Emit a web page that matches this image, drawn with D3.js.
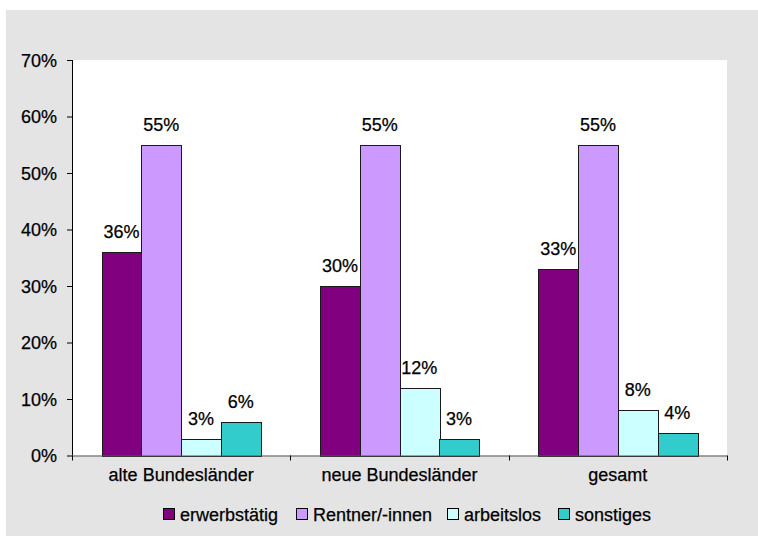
<!DOCTYPE html>
<html>
<head>
<meta charset="utf-8">
<script src="https://cdn.jsdelivr.net/npm/d3@7"></script>
<style>
	body{margin:0;background:#ffffff;}
	text{font-family:"Liberation Sans", Arial, Helvetica, sans-serif;fill:#000;stroke:#000;stroke-width:0.25px;}
</style>
</head>
<body>
<div id="chart"></div>
<script>

var categories = ["alte Bundesländer", "neue Bundesländer", "gesamt"];
var seriesNames = ["erwerbstätig", "Rentner/-innen", "arbeitslos", "sonstiges"];
var seriesColors = ["#800080", "#cc99ff", "#ccffff", "#33cccc"];
var erwerbstaetig = [36, 30, 33];
var rentner = [55, 55, 55];
var arbeitslos = [3, 12, 8];
var sonstiges = [6, 3, 4];
var yTicks = [0, 10, 20, 30, 40, 50, 60, 70];

var values = [erwerbstaetig, rentner, arbeitslos, sonstiges];

var WIDTH = 758;
var HEIGHT = 536;
var FONT = 18;
var plot = {left: 72, right: 727, top: 60, bottom: 455.5};

var svg = d3.select("#chart")
	.append("svg")
	.attr("width", WIDTH)
	.attr("height", HEIGHT);

//GREY BACKGROUND, WHITE PLOT AREA
svg.append("rect")
	.attr("x", 6).attr("y", 10)
	.attr("width", WIDTH - 6).attr("height", HEIGHT - 10)
	.attr("fill", "#e4e4e4");
svg.append("rect")
	.attr("x", plot.left).attr("y", plot.top)
	.attr("width", plot.right - plot.left).attr("height", plot.bottom - plot.top)
	.attr("fill", "#ffffff");

var x0 = d3.scaleBand().domain(categories).range([plot.left, plot.right]).padding(0);
var x1 = d3.scaleBand().domain(seriesNames).range([0, x0.bandwidth()]).paddingInner(0).paddingOuter(0.75);
var y = d3.scaleLinear().domain([0, 70]).range([plot.bottom, plot.top]);

//BARS
var rows = [];
categories.forEach(function(c, ci){
	seriesNames.forEach(function(s, si){
		rows.push({category: c, series: s, si: si, value: values[si][ci]});
	});
});

var bars = svg.append("g");
bars.selectAll("rect")
	.data(rows)
	.enter()
	.append("rect")
	.attr("x", function(d){ return Math.round(x0(d.category) + x1(d.series)) + 0.5; })
	.attr("y", function(d){ return Math.round(y(d.value)) + 0.5; })
	.attr("width", function(d){ return Math.round(x1.bandwidth()); })
	.attr("height", function(d){ return Math.round(plot.bottom) - Math.round(y(d.value)); })
	.attr("fill", function(d){ return seriesColors[d.si]; })
	.attr("stroke", "#1a1a1a")
	.attr("stroke-width", 1);

bars.selectAll("text")
	.data(rows)
	.enter()
	.append("text")
	.attr("x", function(d){ return x0(d.category) + x1(d.series) + x1.bandwidth() / 2; })
	.attr("y", function(d){ return y(d.value) - 14; })
	.attr("text-anchor", "middle")
	.style("font-size", FONT + "px")
	.text(function(d){ return d.value + "%"; });

//Y AXIS
var yAxis = svg.append("g")
	.attr("transform", "translate(" + plot.left + ",0)")
	.call(d3.axisLeft(y).tickValues(yTicks).tickSize(5).tickPadding(10).tickFormat(function(v){ return v + "%"; }));
yAxis.selectAll("text").style("font-size", FONT + "px").attr("dy", "0.34em");
yAxis.selectAll("line, path").attr("stroke", "#000");
yAxis.select(".domain").attr("d", "M0.5," + plot.top + "V" + plot.bottom);

//X AXIS (TICKS AT GROUP BOUNDARIES)
var xAxisG = svg.append("g")
	.attr("transform", "translate(0," + plot.bottom + ")");
xAxisG.append("line")
	.attr("x1", plot.left).attr("x2", plot.right)
	.attr("y1", 0.5).attr("y2", 0.5)
	.attr("stroke", "#555");
var bounds = categories.map(function(c){ return x0(c); }).concat([plot.right]);
xAxisG.selectAll("line.tick")
	.data(bounds)
	.enter()
	.append("line")
	.attr("class", "tick")
	.attr("x1", function(d){ return Math.round(d) + 0.5; })
	.attr("x2", function(d){ return Math.round(d) + 0.5; })
	.attr("y1", 0).attr("y2", 5)
	.attr("stroke", "#000");
xAxisG.selectAll("text")
	.data(categories)
	.enter()
	.append("text")
	.attr("x", function(d){ return x0(d) + x0.bandwidth() / 2; })
	.attr("y", 25)
	.attr("text-anchor", "middle")
	.style("font-size", FONT + "px")
	.text(function(d){ return d; });

//LEGEND
var legendX = [163, 296, 447, 558];
var legend = svg.append("g")
	.selectAll("g")
	.data(seriesNames)
	.enter()
	.append("g")
	.attr("transform", function(d, i){ return "translate(" + legendX[i] + ",508)"; });
legend.append("rect")
	.attr("x", 0.5).attr("y", 0.5)
	.attr("width", 11).attr("height", 11)
	.attr("fill", function(d, i){ return seriesColors[i]; })
	.attr("stroke", "#000");
legend.append("text")
	.attr("x", 17)
	.attr("y", 12.5)
	.style("font-size", FONT + "px")
	.text(function(d){ return d; });

</script>
</body>
</html>
